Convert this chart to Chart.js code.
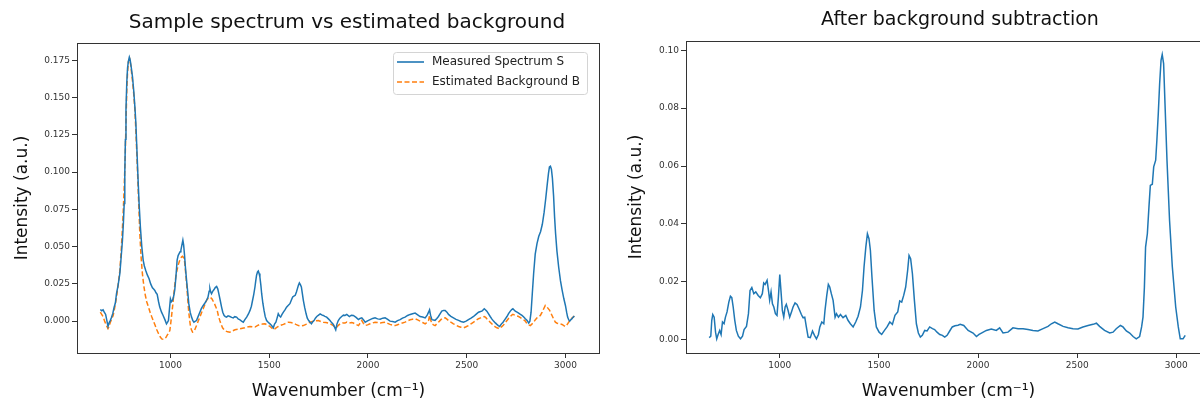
<!DOCTYPE html>
<html>
<head>
<meta charset="utf-8">
<script src="https://cdn.jsdelivr.net/npm/chart.js@4.4.0/dist/chart.umd.min.js"></script>
<style>
  html, body { margin: 0; padding: 0; background: #fff; overflow: hidden; width: 1200px; height: 403px; }
  #leftBox { position: absolute; left: 0; top: 0; }
  #rightBox { position: absolute; left: 612px; top: 0; }
</style>
</head>
<body>
<div id="leftBox"><canvas id="leftChart" width="610" height="403"></canvas></div>
<div id="rightBox"><canvas id="rightChart" width="612" height="403"></canvas></div>
<script>
/* DATA */
const xTicks = [1000, 1500, 2000, 2500, 3000];
const leftYTicks = [0, 0.025, 0.05, 0.075, 0.1, 0.125, 0.15, 0.175];
const rightYTicks = [0, 0.02, 0.04, 0.06, 0.08, 0.1];

const wavenumberS = [645,652,659,665,672,678,684,690,696,701,708,715,721,727,735,744,750,757,762,766,769,772,775,779,783,787,792,796,801,808,814,820,825,830,835,841,848,855,862,868,875,883,892,900,909,915,921,927,933,940,946,955,963,972,980,985,990,995,1000,1005,1011,1017,1022,1028,1034,1039,1044,1049,1053,1058,1063,1067,1071,1076,1082,1088,1093,1100,1107,1113,1119,1125,1132,1140,1149,1157,1166,1174,1183,1190,1196,1200,1204,1208,1214,1220,1227,1234,1240,1245,1252,1259,1265,1272,1278,1284,1292,1301,1310,1318,1326,1335,1343,1352,1360,1369,1377,1386,1395,1403,1410,1416,1422,1428,1432,1436,1441,1445,1449,1453,1458,1462,1468,1474,1480,1487,1495,1504,1512,1521,1527,1534,1540,1546,1552,1558,1565,1572,1580,1588,1596,1605,1612,1619,1625,1632,1638,1643,1648,1653,1658,1663,1668,1673,1680,1687,1693,1700,1707,1714,1720,1727,1734,1741,1750,1758,1766,1774,1782,1791,1800,1808,1816,1825,1831,1837,1843,1850,1858,1867,1876,1884,1893,1906,1916,1926,1940,1952,1960,1969,1978,1986,1998,2011,2024,2036,2049,2062,2075,2087,2100,2112,2125,2138,2150,2163,2175,2188,2201,2214,2226,2239,2252,2264,2277,2290,2300,2307,2312,2317,2324,2332,2340,2349,2357,2366,2374,2383,2391,2400,2408,2420,2433,2446,2459,2471,2484,2497,2509,2522,2535,2547,2560,2570,2577,2583,2589,2596,2602,2610,2619,2627,2636,2645,2653,2660,2667,2675,2684,2694,2704,2712,2721,2728,2734,2740,2746,2755,2763,2772,2780,2789,2797,2806,2814,2820,2826,2832,2839,2847,2856,2865,2874,2883,2892,2900,2908,2914,2919,2924,2929,2934,2940,2945,2950,2957,2966,2975,2983,2992,3000,3006,3011,3017,3022,3028,3033,3038,3045];
const measuredS = [0.0078,0.0070,0.0076,0.0060,0.0045,0.0005,-0.0036,-0.0010,0.0005,0.0022,0.0050,0.0094,0.0120,0.0184,0.0240,0.0320,0.0420,0.0540,0.0660,0.0790,0.0990,0.1220,0.1420,0.1600,0.1700,0.1743,0.1772,0.1755,0.1710,0.1640,0.1550,0.1440,0.1330,0.1160,0.0990,0.0800,0.0630,0.0500,0.0410,0.0370,0.0340,0.0310,0.0285,0.0250,0.0224,0.0215,0.0206,0.0190,0.0180,0.0130,0.0094,0.0060,0.0038,0.0010,-0.0018,-0.0008,0.0004,0.0080,0.0150,0.0130,0.0140,0.0170,0.0210,0.0300,0.0410,0.0440,0.0453,0.0465,0.0476,0.0510,0.0543,0.0510,0.0450,0.0360,0.0270,0.0190,0.0117,0.0060,0.0027,0.0005,-0.0007,-0.0002,0.0004,0.0030,0.0060,0.0085,0.0105,0.0120,0.0140,0.0160,0.0200,0.0218,0.0195,0.0184,0.0200,0.0210,0.0225,0.0233,0.0215,0.0184,0.0140,0.0094,0.0060,0.0038,0.0030,0.0027,0.0035,0.0031,0.0025,0.0022,0.0030,0.0027,0.0015,0.0009,0.0000,-0.0007,0.0010,0.0027,0.0048,0.0072,0.0100,0.0140,0.0180,0.0229,0.0270,0.0307,0.0330,0.0336,0.0320,0.0296,0.0240,0.0184,0.0120,0.0072,0.0030,0.0004,-0.0008,-0.0018,-0.0030,-0.0045,-0.0020,-0.0007,0.0020,0.0049,0.0035,0.0027,0.0045,0.0060,0.0075,0.0094,0.0105,0.0117,0.0140,0.0162,0.0168,0.0173,0.0195,0.0218,0.0240,0.0256,0.0245,0.0229,0.0185,0.0140,0.0090,0.0049,0.0020,0.0004,-0.0008,-0.0018,-0.0005,0.0004,0.0020,0.0031,0.0040,0.0049,0.0042,0.0038,0.0032,0.0027,0.0015,0.0004,-0.0010,-0.0022,-0.0040,-0.0058,-0.0020,0.0004,0.0020,0.0031,0.0040,0.0038,0.0045,0.0031,0.0040,0.0038,0.0025,0.0010,0.0018,0.0022,0.0008,-0.0007,0.0002,0.0010,0.0018,0.0022,0.0015,0.0013,0.0020,0.0022,0.0012,0.0000,-0.0003,-0.0007,0.0003,0.0010,0.0020,0.0027,0.0038,0.0045,0.0050,0.0054,0.0042,0.0031,0.0028,0.0022,0.0040,0.0060,0.0076,0.0040,0.0010,0.0008,0.0005,0.0018,0.0031,0.0050,0.0067,0.0072,0.0072,0.0060,0.0045,0.0032,0.0022,0.0012,0.0005,-0.0002,-0.0007,0.0000,0.0010,0.0020,0.0031,0.0045,0.0060,0.0065,0.0067,0.0075,0.0083,0.0075,0.0067,0.0050,0.0031,0.0015,0.0000,-0.0012,-0.0022,-0.0030,-0.0036,-0.0020,-0.0007,0.0012,0.0031,0.0050,0.0067,0.0078,0.0083,0.0075,0.0067,0.0060,0.0054,0.0045,0.0038,0.0028,0.0016,0.0005,-0.0013,0.0000,0.0060,0.0180,0.0320,0.0450,0.0520,0.0570,0.0600,0.0650,0.0730,0.0820,0.0920,0.0990,0.1035,0.1040,0.1020,0.0960,0.0840,0.0700,0.0590,0.0470,0.0360,0.0270,0.0210,0.0150,0.0105,0.0060,0.0027,0.0008,0.0000,0.0010,0.0016,0.0025,0.0035];

const wavenumberB = [645,652,659,667,676,684,690,696,703,710,718,727,735,744,752,760,766,771,775,779,783,787,791,794,799,804,809,814,820,825,830,835,840,845,851,858,865,872,880,889,897,906,914,923,931,940,948,956,963,970,977,983,990,997,1002,1007,1012,1017,1022,1027,1033,1039,1045,1051,1056,1061,1066,1071,1076,1082,1087,1092,1097,1102,1107,1112,1117,1122,1129,1136,1142,1149,1157,1166,1174,1183,1190,1196,1203,1210,1216,1223,1230,1237,1243,1250,1257,1264,1272,1281,1290,1301,1314,1327,1340,1352,1365,1377,1390,1403,1416,1428,1440,1453,1466,1479,1492,1504,1514,1524,1535,1546,1559,1572,1585,1597,1610,1622,1635,1648,1660,1673,1686,1698,1711,1724,1737,1749,1762,1774,1787,1800,1812,1825,1832,1839,1849,1859,1872,1884,1893,1906,1918,1926,1940,1952,1961,1969,1977,1986,1998,2011,2024,2036,2049,2062,2075,2087,2100,2112,2125,2138,2150,2163,2175,2188,2201,2214,2226,2239,2252,2264,2277,2290,2300,2307,2312,2317,2324,2332,2340,2349,2357,2366,2374,2383,2391,2400,2408,2420,2433,2446,2459,2471,2484,2497,2509,2522,2535,2547,2560,2570,2577,2589,2596,2602,2610,2619,2627,2636,2645,2653,2660,2667,2675,2684,2694,2704,2712,2721,2728,2734,2740,2746,2755,2763,2772,2780,2789,2797,2805,2814,2822,2830,2839,2847,2856,2865,2873,2882,2890,2898,2903,2907,2914,2920,2926,2932,2940,2949,2958,2966,2975,2983,2992,3000,3006,3011,3018,3025,3033,3042,3045];
const backgroundB = [0.0060,0.0045,0.0030,0.0000,-0.0030,-0.0050,-0.0035,-0.0007,0.0015,0.0038,0.0090,0.0160,0.0240,0.0340,0.0500,0.0700,0.0900,0.1100,0.1330,0.1550,0.1670,0.1740,0.1755,0.1759,0.1720,0.1660,0.1600,0.1530,0.1420,0.1280,0.1120,0.0950,0.0770,0.0590,0.0440,0.0320,0.0240,0.0180,0.0130,0.0094,0.0060,0.0027,0.0000,-0.0030,-0.0058,-0.0085,-0.0105,-0.0119,-0.0122,-0.0119,-0.0110,-0.0096,-0.0082,-0.0063,-0.0010,0.0049,0.0110,0.0180,0.0240,0.0296,0.0340,0.0375,0.0400,0.0420,0.0430,0.0435,0.0428,0.0410,0.0340,0.0251,0.0160,0.0072,0.0010,-0.0040,-0.0060,-0.0074,-0.0072,-0.0063,-0.0040,-0.0018,0.0005,0.0027,0.0055,0.0083,0.0110,0.0140,0.0152,0.0160,0.0158,0.0150,0.0135,0.0117,0.0095,0.0072,0.0035,0.0004,-0.0022,-0.0045,-0.0058,-0.0067,-0.0072,-0.0074,-0.0066,-0.0058,-0.0055,-0.0052,-0.0048,-0.0045,-0.0040,-0.0036,-0.0038,-0.0040,-0.0030,-0.0022,-0.0020,-0.0018,-0.0026,-0.0036,-0.0048,-0.0058,-0.0045,-0.0036,-0.0028,-0.0022,-0.0014,-0.0007,-0.0010,-0.0013,-0.0022,-0.0030,-0.0032,-0.0030,-0.0022,-0.0013,-0.0006,0.0000,0.0003,0.0004,-0.0003,-0.0007,-0.0010,-0.0013,-0.0020,-0.0030,-0.0038,-0.0045,-0.0030,-0.0018,-0.0012,-0.0013,-0.0007,-0.0013,-0.0010,-0.0013,-0.0022,-0.0030,-0.0012,0.0004,-0.0015,-0.0030,-0.0025,-0.0018,-0.0012,-0.0007,-0.0010,-0.0013,-0.0010,-0.0007,-0.0015,-0.0022,-0.0027,-0.0030,-0.0024,-0.0018,-0.0012,-0.0007,0.0002,0.0009,0.0013,0.0016,0.0008,0.0000,-0.0009,-0.0018,-0.0008,0.0004,0.0038,0.0010,-0.0018,-0.0025,-0.0030,-0.0018,-0.0007,0.0005,0.0016,0.0020,0.0022,0.0013,0.0004,-0.0007,-0.0018,-0.0027,-0.0036,-0.0041,-0.0045,-0.0038,-0.0030,-0.0018,-0.0007,0.0005,0.0016,0.0022,0.0027,0.0031,0.0025,0.0016,0.0005,-0.0007,-0.0018,-0.0030,-0.0038,-0.0045,-0.0048,-0.0051,-0.0040,-0.0030,-0.0013,0.0004,0.0018,0.0031,0.0040,0.0045,0.0042,0.0038,0.0034,0.0031,0.0024,0.0016,0.0008,0.0000,-0.0018,-0.0025,-0.0030,-0.0020,-0.0007,0.0008,0.0022,0.0030,0.0038,0.0060,0.0083,0.0105,0.0100,0.0094,0.0082,0.0072,0.0055,0.0038,0.0015,-0.0007,-0.0014,-0.0018,-0.0020,-0.0022,-0.0030,-0.0036,-0.0028,-0.0018,-0.0004,0.0010,0.0020,0.0031,0.0033];

const wavenumberC = [644,652,657,662,669,676,682,689,697,704,711,719,726,734,743,751,758,765,773,781,791,802,812,820,832,842,850,859,869,879,891,902,912,919,926,936,943,949,956,963,970,978,986,993,1000,1007,1013,1020,1027,1033,1042,1050,1059,1067,1077,1087,1097,1109,1117,1126,1134,1143,1154,1165,1175,1185,1195,1202,1212,1222,1228,1237,1245,1252,1260,1269,1279,1286,1296,1306,1319,1333,1344,1356,1370,1383,1395,1407,1417,1425,1434,1442,1450,1457,1465,1476,1487,1501,1514,1528,1541,1555,1568,1581,1595,1605,1615,1625,1635,1645,1652,1660,1669,1679,1689,1699,1709,1719,1731,1743,1756,1770,1781,1793,1807,1820,1832,1844,1857,1870,1884,1899,1910,1928,1950,1975,1992,2005,2017,2042,2067,2092,2109,2126,2151,2176,2202,2227,2252,2277,2302,2328,2353,2370,2387,2403,2429,2454,2479,2504,2529,2555,2580,2597,2613,2638,2664,2681,2697,2718,2731,2748,2765,2782,2798,2815,2825,2832,2839,2845,2854,2862,2869,2879,2886,2896,2902,2909,2916,2923,2929,2936,2943,2953,2966,2980,2997,3010,3020,3034,3045];
const correctedC = [0.0007,0.0012,0.0067,0.0087,0.0078,0.0026,0.0003,0.0018,0.0032,0.0018,0.0061,0.0055,0.0078,0.0096,0.0130,0.0150,0.0145,0.0113,0.0067,0.0032,0.0012,0.0003,0.0012,0.0035,0.0046,0.0090,0.0170,0.0180,0.0159,0.0165,0.0153,0.0145,0.0159,0.0196,0.0191,0.0205,0.0170,0.0136,0.0165,0.0124,0.0113,0.0090,0.0084,0.0147,0.0225,0.0159,0.0101,0.0078,0.0113,0.0122,0.0101,0.0078,0.0096,0.0113,0.0127,0.0122,0.0107,0.0087,0.0076,0.0078,0.0044,0.0009,0.0007,0.0030,0.0015,0.0003,0.0018,0.0044,0.0061,0.0055,0.0101,0.0153,0.0191,0.0182,0.0159,0.0136,0.0078,0.0090,0.0078,0.0087,0.0076,0.0084,0.0067,0.0055,0.0044,0.0061,0.0081,0.0113,0.0170,0.0251,0.0320,0.0366,0.0349,0.0309,0.0216,0.0101,0.0044,0.0026,0.0018,0.0032,0.0044,0.0061,0.0053,0.0084,0.0096,0.0134,0.0130,0.0153,0.0182,0.0240,0.0291,0.0280,0.0228,0.0136,0.0055,0.0023,0.0009,0.0015,0.0032,0.0030,0.0044,0.0038,0.0035,0.0026,0.0018,0.0015,0.0009,0.0015,0.0030,0.0044,0.0048,0.0050,0.0053,0.0049,0.0032,0.0023,0.0011,0.0018,0.0023,0.0032,0.0037,0.0032,0.0041,0.0023,0.0026,0.0041,0.0038,0.0038,0.0035,0.0032,0.0030,0.0038,0.0046,0.0055,0.0061,0.0055,0.0046,0.0041,0.0038,0.0037,0.0044,0.0049,0.0053,0.0057,0.0046,0.0032,0.0023,0.0026,0.0038,0.0049,0.0044,0.0030,0.0023,0.0011,0.0003,0.0011,0.0044,0.0078,0.0180,0.0320,0.0366,0.0458,0.0533,0.0537,0.0597,0.0620,0.0689,0.0780,0.0885,0.0965,0.0985,0.0954,0.0815,0.0620,0.0412,0.0251,0.0113,0.0044,0.0003,0.0003,0.0015];

const toPoints = (xs, ys) => xs.map((x, i) => ({ x: x, y: ys[i] }));

Chart.defaults.font.family = "'DejaVu Sans', sans-serif";
Chart.defaults.color = "#333";

/* FRAME, TITLE, LEGEND */
const deco = {
  id: "deco",
  afterDraw(chart, args, opts) {
    const ctx = chart.ctx;
    const a = chart.chartArea;
    ctx.save();
    ctx.strokeStyle = "#333";
    ctx.lineWidth = 1;
    ctx.strokeRect(a.left + 0.5, a.top + 0.5, a.right - a.left - 1, a.bottom - a.top);

    ctx.fillStyle = "#111";
    ctx.font = opts.titleSize + "px 'DejaVu Sans'";
    ctx.textAlign = "center";
    ctx.textBaseline = "middle";
    ctx.fillText(opts.title, opts.titleX, opts.titleY);

    if (opts.legend) {
      const lx = 393, ly = 52, lw = 194, lh = 42;
      ctx.fillStyle = "rgba(255,255,255,0.8)";
      ctx.strokeStyle = "#d4d4d4";
      ctx.beginPath();
      ctx.roundRect(lx + 0.5, ly + 0.5, lw, lh, 3);
      ctx.fill();
      ctx.stroke();
      ctx.font = "12px 'DejaVu Sans'";
      ctx.textAlign = "left";
      chart.data.datasets.forEach((ds, i) => {
        const y = ly + 10 + i * 20;
        ctx.strokeStyle = ds.borderColor;
        ctx.lineWidth = 1.6;
        ctx.setLineDash(ds.borderDash || []);
        ctx.beginPath();
        ctx.moveTo(lx + 4, y);
        ctx.lineTo(lx + 31, y);
        ctx.stroke();
        ctx.setLineDash([]);
        ctx.fillStyle = "#222";
        ctx.fillText(ds.label, lx + 39, y);
      });
    }
    ctx.restore();
  }
};

function xScale() {
  return {
    type: "linear",
    min: 527,
    max: 3175,
    afterBuildTicks: s => { s.ticks = xTicks.map(v => ({ value: v })); },
    afterFit: s => { s.height = 50; },
    grid: { drawOnChartArea: false, drawTicks: true, tickLength: 5, color: "#333" },
    border: { display: false },
    ticks: { autoSkip: false, maxRotation: 0, padding: 2, font: { size: 9 }, color: "#333", callback: v => String(v) },
    title: { display: true, text: "Wavenumber (cm\u207B\u00B9)", color: "#111", font: { size: 17 }, padding: { top: 0, bottom: 1 } }
  };
}

function yScale(min, max, ticks, digits, width, titlePad) {
  return {
    min: min,
    max: max,
    afterBuildTicks: s => { s.ticks = ticks.map(v => ({ value: v })); },
    afterFit: s => { s.width = width; },
    grid: { drawOnChartArea: false, drawTicks: true, tickLength: 5, color: "#333" },
    border: { display: false },
    ticks: { autoSkip: false, padding: 2, font: { size: 9 }, color: "#333", callback: v => v.toFixed(digits) },
    title: { display: true, text: "Intensity (a.u.)", color: "#111", font: { size: 17 }, padding: { top: titlePad, bottom: 0 } }
  };
}

new Chart(document.getElementById("leftChart"), {
  type: "line",
  data: {
    datasets: [{
      label: "Measured Spectrum S",
      data: toPoints(wavenumberS, measuredS),
      borderColor: "#1f77b4",
      borderWidth: 1.5,
      pointRadius: 0,
      tension: 0
    }, {
      label: "Estimated Background B",
      data: toPoints(wavenumberB, backgroundB),
      borderColor: "#ff7f0e",
      borderWidth: 1.5,
      borderDash: [5, 2.5],
      pointRadius: 0,
      tension: 0
    }]
  },
  options: {
    responsive: false,
    animation: false,
    layout: { padding: { top: 43, right: 10, left: 0, bottom: 0 } },
    plugins: {
      legend: { display: false },
      tooltip: { enabled: false },
      deco: { title: "Sample spectrum vs estimated background", titleSize: 20, titleX: 347, titleY: 23, legend: true }
    },
    scales: {
      x: xScale(),
      y: yScale(-0.0214, 0.1867, leftYTicks, 3, 77, 12)
    }
  },
  plugins: [deco]
});

new Chart(document.getElementById("rightChart"), {
  type: "line",
  data: {
    datasets: [{
      label: "Corrected",
      data: toPoints(wavenumberC, correctedC),
      borderColor: "#1f77b4",
      borderWidth: 1.5,
      pointRadius: 0,
      tension: 0
    }]
  },
  options: {
    responsive: false,
    animation: false,
    layout: { padding: { top: 41, right: 13, left: 0, bottom: 0 } },
    plugins: {
      legend: { display: false },
      tooltip: { enabled: false },
      deco: { title: "After background subtraction", titleSize: 19, titleX: 348, titleY: 20, legend: false }
    },
    scales: {
      x: xScale(),
      y: yScale(-0.0046, 0.1032, rightYTicks, 2, 74, 14)
    }
  },
  plugins: [deco]
});
</script>
</body>
</html>
